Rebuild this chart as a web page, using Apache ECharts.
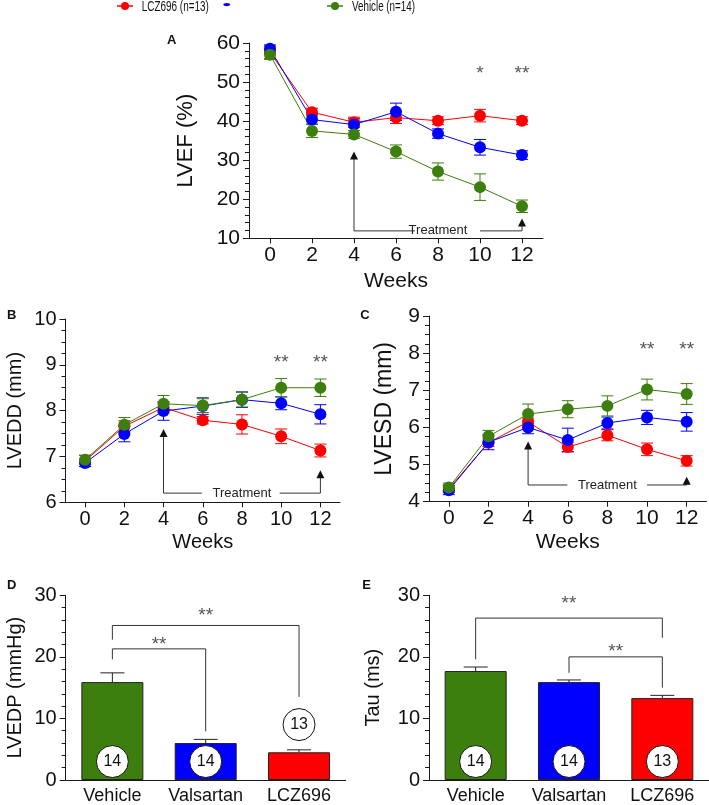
<!DOCTYPE html>
<html><head><meta charset="utf-8">
<script src="https://cdn.jsdelivr.net/npm/echarts@6/dist/echarts.min.js"></script>
<style>html,body{margin:0;padding:0;background:#fff}#c{width:709px;height:805px}</style>
</head><body><div id="c"></div>
<script>
// ---------- data ----------
const weeks = [0, 2, 4, 6, 8, 10, 12];
const weekTicks = [0, 2, 4, 6, 8, 10, 12];
const groupNames = ['LCZ696 (n=13)', 'Valsartan', 'Vehicle (n=14)'];
const barCategories = ['Vehicle', 'Valsartan', 'LCZ696'];

// Panel A: LVEF (%)
const lvefLCZ = [57.6, 42.3, 39.7, 40.9, 40.1, 41.4, 40.1];
const lvefLCZErr = [1.6, 1.0, 1.3, 1.5, 1.0, 1.6, 1.0];
const lvefVal = [58.5, 40.4, 39.1, 42.4, 36.8, 33.3, 31.3];
const lvefValErr = [1.0, 1.2, 1.5, 2.2, 1.2, 2.0, 1.1];
const lvefVeh = [57.0, 37.5, 36.6, 32.2, 27.1, 23.1, 18.2];
const lvefVehErr = [1.2, 1.7, 1.0, 1.7, 2.2, 3.4, 1.6];

// Panel B: LVEDD (mm)
const lveddLCZ = [6.90, 7.66, 8.07, 7.79, 7.70, 7.44, 7.13];
const lveddLCZErr = [0.12, 0.12, 0.12, 0.08, 0.21, 0.16, 0.14];
const lveddVal = [6.86, 7.49, 7.99, 8.10, 8.24, 8.16, 7.92];
const lveddValErr = [0.08, 0.17, 0.20, 0.18, 0.17, 0.14, 0.21];
const lveddVeh = [6.93, 7.69, 8.15, 8.11, 8.24, 8.50, 8.50];
const lveddVehErr = [0.10, 0.16, 0.18, 0.15, 0.16, 0.20, 0.19];

// Panel C: LVESD (mm)
const lvesdLCZ = [4.35, 5.59, 6.15, 5.47, 5.79, 5.41, 5.10];
const lvesdLCZErr = [0.10, 0.10, 0.10, 0.12, 0.15, 0.17, 0.14];
const lvesdVal = [4.31, 5.60, 6.00, 5.66, 6.12, 6.27, 6.15];
const lvesdValErr = [0.12, 0.20, 0.17, 0.32, 0.16, 0.19, 0.25];
const lvesdVeh = [4.38, 5.76, 6.36, 6.49, 6.58, 7.02, 6.90];
const lvesdVehErr = [0.12, 0.16, 0.27, 0.23, 0.27, 0.28, 0.28];

// Panel D: LVEDP (mmHg)
const lvedpValues = [15.9, 6.0, 4.5];
const lvedpErr = [1.5, 0.6, 0.4];
const lvedpN = [14, 14, 13];
const lvedpNPos = [3, 3, 9];

// Panel E: Tau (ms)
const tauValues = [17.7, 15.9, 13.3];
const tauErr = [0.65, 0.35, 0.45];
const tauN = [14, 14, 13];
const tauNPos = [3, 3, 3];

// significance marks
const starsA = [[10, '*'], [12, '**']];
const starsB = [[10, '**'], [12, '**']];
const starsC = [[10, '**'], [12, '**']];

// ---------- style ----------
const FONT = '"Liberation Sans", Arial, sans-serif';
const RED = '#ff0000', BLUE = '#0000ff', GREEN = '#3d7f0e';
const AX = '#1a1a1a';
const colors = [RED, BLUE, GREEN];

const chart = echarts.init(document.getElementById('c'), null, {renderer: 'canvas'});

const grids = [
  {left: 249, top: 43, width: 294, height: 195.3},    // A
  {left: 65.5, top: 319, width: 274.5, height: 183.3}, // B
  {left: 429, top: 316, width: 277.5, height: 185.7},  // C
  {left: 65.7, top: 595.3, width: 280, height: 186.4}, // D
  {left: 429, top: 595.3, width: 280, height: 186.4}   // E
];

function xWeeks(gi, fs, nameGap, lblMargin) {
  return {
    type: 'value', gridIndex: gi, min: -1, max: 13,
    name: 'Weeks', nameLocation: 'middle', nameGap: nameGap,
    nameTextStyle: {fontSize: fs, color: '#111', fontFamily: FONT},
    axisLine: {show: true, onZero: false, lineStyle: {color: AX, width: 1}},
    axisTick: {show: true, length: 5, customValues: weekTicks, lineStyle: {color: AX}},
    axisLabel: {fontSize: fs, color: '#111', fontFamily: FONT, margin: lblMargin, customValues: weekTicks},
    splitLine: {show: false}
  };
}
function yVal(gi, min, max, interval, minorSplit, name, nameGap, nameFs, lblFs) {
  return {
    type: 'value', gridIndex: gi, min: min, max: max, interval: interval,
    name: name, nameLocation: 'middle', nameGap: nameGap,
    nameTextStyle: {fontSize: nameFs, color: '#111', fontFamily: FONT},
    axisLine: {show: true, onZero: false, lineStyle: {color: AX, width: 1}},
    axisTick: {show: true, length: 6, lineStyle: {color: AX}},
    minorTick: {show: true, splitNumber: minorSplit, length: 4, lineStyle: {color: AX}},
    axisLabel: {fontSize: lblFs, color: '#111', fontFamily: FONT, margin: 9},
    splitLine: {show: false}, minorSplitLine: {show: false}
  };
}
function xCat(gi) {
  return {
    type: 'category', gridIndex: gi, data: barCategories,
    axisLine: {show: true, onZero: false, lineStyle: {color: AX, width: 1}},
    axisTick: {show: false},
    axisLabel: {fontSize: 18, color: '#111', fontFamily: FONT, margin: 7, interval: 0, hideOverlap: false},
    splitLine: {show: false}
  };
}

function pairs(xs, ys) { return xs.map((x, i) => [x, ys[i]]); }
function triples(xs, ys, es) { return xs.map((x, i) => [x, ys[i], es[i]]); }

function errSeries(gi, data, color, capHalf, bothSides) {
  return {
    type: 'custom', xAxisIndex: gi, yAxisIndex: gi, data: data,
    encode: {x: 0, y: 1}, silent: true,
    renderItem: function (params, api) {
      const x = api.value(0), y = api.value(1), e = api.value(2);
      const hi = api.coord([x, y + e]);
      const lo = bothSides ? api.coord([x, y - e]) : api.coord([x, y]);
      const st = {stroke: color, lineWidth: 1, fill: null};
      const ch = [
        {type: 'line', shape: {x1: hi[0], y1: hi[1], x2: lo[0], y2: lo[1]}, style: st},
        {type: 'line', shape: {x1: hi[0] - capHalf, y1: hi[1], x2: hi[0] + capHalf, y2: hi[1]}, style: st}
      ];
      if (bothSides) ch.push({type: 'line', shape: {x1: lo[0] - capHalf, y1: lo[1], x2: lo[0] + capHalf, y2: lo[1]}, style: st});
      return {type: 'group', children: ch};
    }
  };
}
function lineSeries(gi, name, data, color) {
  return {
    type: 'line', name: name, xAxisIndex: gi, yAxisIndex: gi, data: data,
    symbol: 'circle', symbolSize: 12, showSymbol: true,
    lineStyle: {color: color, width: 1}, itemStyle: {color: color},
    emphasis: {disabled: true}, animation: false
  };
}

const linePanels = [
  {gi: 0, sets: [[lvefLCZ, lvefLCZErr], [lvefVal, lvefValErr], [lvefVeh, lvefVehErr]]},
  {gi: 1, sets: [[lveddLCZ, lveddLCZErr], [lveddVal, lveddValErr], [lveddVeh, lveddVehErr]]},
  {gi: 2, sets: [[lvesdLCZ, lvesdLCZErr], [lvesdVal, lvesdValErr], [lvesdVeh, lvesdVehErr]]}
];

const series = [];
linePanels.forEach(p => {
  p.sets.forEach((s, k) => {
    series.push(errSeries(p.gi, triples(weeks, s[0], s[1]), colors[k], 6, true));
    series.push(lineSeries(p.gi, groupNames[k], pairs(weeks, s[0]), colors[k]));
  });
});

function barPanel(gi, values, errs, ns, nPos) {
  series.push({
    type: 'bar', xAxisIndex: gi, yAxisIndex: gi, barWidth: 62,
    data: values.map((v, i) => ({value: v, itemStyle: {color: [GREEN, BLUE, RED][i]}})),
    itemStyle: {borderColor: '#222', borderWidth: 1}, animation: false
  });
  series.push(errSeries(gi, values.map((v, i) => [i, v, errs[i]]), '#222', 12, false));
  series.push({
    type: 'scatter', xAxisIndex: gi, yAxisIndex: gi, symbol: 'circle', symbolSize: 32,
    data: nPos.map((y, i) => [i, y]),
    itemStyle: {color: '#fff', borderColor: '#111', borderWidth: 1, opacity: 1},
    label: {show: true, position: 'inside', fontSize: 16, color: '#111', fontFamily: FONT,
      formatter: p => String(ns[p.dataIndex])},
    animation: false
  });
}
barPanel(3, lvedpValues, lvedpErr, lvedpN, lvedpNPos);
barPanel(4, tauValues, tauErr, tauN, tauNPos);

chart.setOption({
  animation: false,
  backgroundColor: '#fff',
  grid: grids,
  xAxis: [xWeeks(0, 21, 32, 6), xWeeks(1, 20, 30, 7), xWeeks(2, 21, 30, 6), xCat(3), xCat(4)],
  yAxis: [
    yVal(0, 10, 60, 10, 5, 'LVEF (%)', 52, 22, 21),
    yVal(1, 6, 10, 1, 4, 'LVEDD (mm)', 40, 20, 20),
    yVal(2, 4, 9, 1, 4, 'LVESD (mm)', 33, 23, 21),
    yVal(3, 0, 30, 10, 5, 'LVEDP (mmHg)', 40, 20, 20),
    yVal(4, 0, 30, 10, 5, 'Tau (ms)', 46, 20, 20)
  ],
  series: series
});

// ---------- annotations through the axes ----------
function px(gi, pt) { return chart.convertToPixel({xAxisIndex: gi, yAxisIndex: gi}, pt); }
const g = [];
const LC = '#333';

function arrowHead(x, y) { // tip at (x,y) pointing up
  return {type: 'polygon', shape: {points: [[x, y], [x - 4, y + 8], [x + 4, y + 8]]}, style: {fill: '#111'}};
}
function treatment(gi, lineY, tip4, tip12, gapL, gapR) {
  const a = px(gi, [4, tip4]), b = px(gi, [4, lineY]), c = px(gi, [gapL, lineY]);
  const d = px(gi, [gapR, lineY]), e = px(gi, [12, lineY]), f = px(gi, [12, tip12]);
  const m = px(gi, [8, lineY]);
  g.push({type: 'polyline', shape: {points: [[a[0], a[1] + 6], b, c]}, style: {stroke: LC, lineWidth: 1, fill: null}});
  g.push({type: 'polyline', shape: {points: [d, e, [f[0], f[1] + 6]]}, style: {stroke: LC, lineWidth: 1, fill: null}});
  g.push(arrowHead(a[0], a[1]));
  g.push(arrowHead(f[0], f[1]));
  g.push({type: 'text', x: m[0], y: m[1], style: {text: 'Treatment', fontSize: 13, fontFamily: FONT, fill: '#222', align: 'center', verticalAlign: 'middle'}});
}
treatment(0, 11.9, 32.2, 15.1, 6.9, 10.0);
treatment(1, 6.2, 7.6, 6.7, 5.95, 9.92);
treatment(2, 4.45, 5.62, 4.67, 5.98, 10.0);

function stars(gi, list, yv) {
  list.forEach(s => {
    const p = px(gi, [s[0], yv]);
    g.push({type: 'text', x: p[0], y: p[1], style: {text: s[1], fontSize: 19, fontFamily: FONT, fill: '#555', align: 'center', verticalAlign: 'middle'}});
  });
}
stars(0, starsA, 52.0);
stars(1, starsB, 9.05);
stars(2, starsC, 8.1);

function bracket(gi, x1, x2, top, yl, yr, starX, starY) {
  const p1 = px(gi, [x1, yl]), p2 = px(gi, [x1, top]), p3 = px(gi, [x2, top]), p4 = px(gi, [x2, yr]);
  g.push({type: 'polyline', shape: {points: [p1, p2, p3, p4]}, style: {stroke: LC, lineWidth: 1, fill: null}});
  const sa = px(gi, [Math.floor(starX), starY]), sb = px(gi, [Math.ceil(starX), starY]);
  const t = starX - Math.floor(starX);
  g.push({type: 'text', x: sa[0] + (sb[0] - sa[0]) * t, y: sa[1], style: {text: '**', fontSize: 19, fontFamily: FONT, fill: '#555', align: 'center', verticalAlign: 'middle'}});
}
bracket(3, 0, 2, 25.1, 22.8, 13.5, 1, 26.6);
bracket(3, 0, 1, 21.3, 19.6, 7.9, 0.5, 22.0);
bracket(4, 0, 2, 26.3, 19.6, 23.1, 1, 28.6);
bracket(4, 1, 2, 20.0, 17.4, 15.0, 1.5, 20.9);

// panel letters
[['A', 171.7, 40], ['B', 11.7, 315], ['C', 365, 315], ['D', 11.7, 585], ['E', 366.7, 585]].forEach(l => {
  g.push({type: 'text', x: l[1], y: l[2], style: {text: l[0], fontSize: 13, fontWeight: 'bold', fontFamily: FONT, fill: '#111', align: 'center', verticalAlign: 'middle'}});
});

// legend
function legItem(cx, color, label, tx, sx) {
  g.push({type: 'line', shape: {x1: cx - 8, y1: 6, x2: cx + 8, y2: 6}, style: {stroke: color, lineWidth: 1.5}});
  g.push({type: 'circle', shape: {cx: cx, cy: 6, r: 4}, style: {fill: color}});
  if (label) g.push({type: 'text', x: tx, y: 7, scaleX: sx, style: {text: label, fontSize: 14, fontFamily: FONT, fill: '#111', align: 'left', verticalAlign: 'middle'}});
}
legItem(125, RED, groupNames[0], 141.7, 0.71);
g.push({type: 'ellipse', shape: {cx: 226.7, cy: 4.6, rx: 3.5, ry: 1.6}, style: {fill: BLUE}});
legItem(335, GREEN, groupNames[2], 352, 0.70);

chart.setOption({graphic: g});
</script>
</body></html>
